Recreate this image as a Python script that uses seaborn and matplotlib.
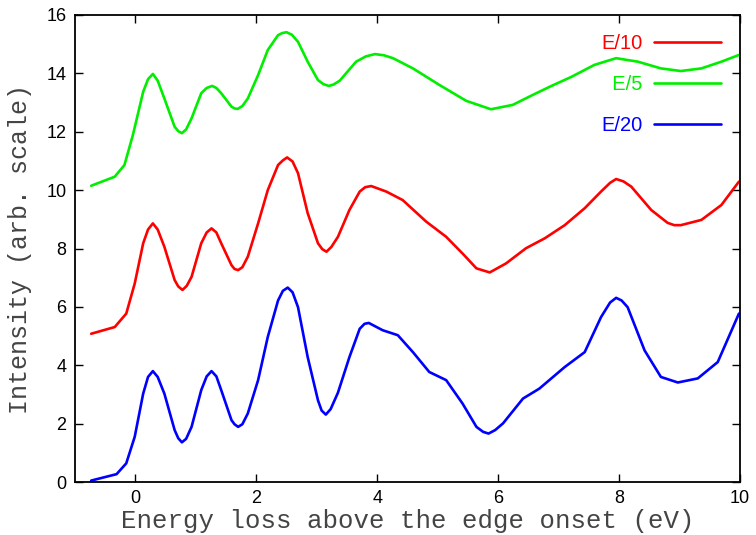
import pandas as pd
import matplotlib
matplotlib.use("Agg")
import matplotlib.pyplot as plt
import seaborn as sns

# Значения
x_e20 = [-0.73, -0.31, -0.15, -0.01, 0.13, 0.21, 0.29, 0.37, 0.48, 0.65, 0.71, 0.77, 0.84,
         0.93, 1.09, 1.18, 1.26, 1.34, 1.42, 1.59, 1.64, 1.70, 1.77, 1.86, 2.03, 2.19, 2.36,
         2.44, 2.52, 2.60, 2.69, 2.85, 3.02, 3.08, 3.15, 3.23, 3.35, 3.54, 3.71, 3.79, 3.86,
         4.09, 4.34, 4.59, 4.86, 5.14, 5.41, 5.64, 5.75, 5.84, 5.95, 6.08, 6.41, 6.68, 7.10,
         7.43, 7.70, 7.85, 7.95, 8.04, 8.14, 8.42, 8.69, 8.97, 9.30, 9.63, 9.98]
y_e20 = [0.05, 0.27, 0.64, 1.55, 3.03, 3.60, 3.80, 3.60, 3.03, 1.78, 1.50, 1.36, 1.48,
         1.89, 3.15, 3.62, 3.80, 3.62, 3.15, 2.12, 1.98, 1.89, 1.98, 2.35, 3.49, 4.97, 6.22,
         6.55, 6.66, 6.50, 5.99, 4.28, 2.80, 2.45, 2.31, 2.50, 3.06, 4.28, 5.25, 5.42, 5.45,
         5.20, 5.03, 4.45, 3.77, 3.49, 2.69, 1.89, 1.72, 1.66, 1.78, 2.01, 2.86, 3.20, 3.94,
         4.45, 5.65, 6.15, 6.31, 6.22, 5.99, 4.51, 3.60, 3.41, 3.55, 4.11, 5.77]

x_e10 = [-0.73, -0.34, -0.15, -0.01, 0.13, 0.21, 0.29, 0.37, 0.48, 0.65, 0.71, 0.78, 0.85,
         0.93, 1.09, 1.18, 1.26, 1.34, 1.42, 1.59, 1.64, 1.70, 1.77, 1.86, 2.03, 2.19, 2.36,
         2.44, 2.51, 2.60, 2.69, 2.85, 3.02, 3.09, 3.16, 3.24, 3.35, 3.54, 3.71, 3.80, 3.90,
         4.15, 4.42, 4.81, 5.14, 5.41, 5.64, 5.86, 6.13, 6.46, 6.77, 7.10, 7.43, 7.70, 7.85,
         7.95, 8.07, 8.20, 8.53, 8.80, 8.91, 9.02, 9.36, 9.69, 9.98]
y_e10 = [5.08, 5.31, 5.77, 6.80, 8.18, 8.65, 8.86, 8.65, 8.06, 6.92, 6.70, 6.58, 6.72,
         7.03, 8.18, 8.55, 8.69, 8.55, 8.18, 7.43, 7.30, 7.26, 7.36, 7.72, 8.86, 10.00, 10.86,
         11.02, 11.12, 10.98, 10.58, 9.21, 8.18, 7.98, 7.89, 8.05, 8.40, 9.32, 9.95, 10.10, 10.14,
         9.95, 9.66, 8.92, 8.40, 7.83, 7.32, 7.18, 7.49, 8.01, 8.35, 8.80, 9.38, 9.95, 10.25,
         10.38, 10.30, 10.12, 9.32, 8.88, 8.80, 8.80, 8.98, 9.49, 10.29]

x_e5 = [-0.73, -0.34, -0.18, -0.04, 0.13, 0.21, 0.29, 0.37, 0.48, 0.65, 0.71, 0.77, 0.84,
        0.93, 1.09, 1.18, 1.27, 1.34, 1.42, 1.59, 1.64, 1.69, 1.77, 1.86, 2.03, 2.19, 2.36,
        2.43, 2.50, 2.59, 2.69, 2.85, 3.02, 3.11, 3.20, 3.28, 3.38, 3.65, 3.81, 3.96, 4.11,
        4.26, 4.59, 5.03, 5.47, 5.88, 6.24, 6.57, 6.85, 7.21, 7.59, 7.95, 8.31, 8.69, 9.02,
        9.36, 9.69, 9.98]
y_e5 = [10.15, 10.46, 10.86, 11.89, 13.37, 13.80, 13.98, 13.75, 13.14, 12.17, 12.02, 11.95, 12.08,
        12.46, 13.32, 13.50, 13.57, 13.50, 13.32, 12.86, 12.80, 12.78, 12.88, 13.14, 13.94, 14.80, 15.31,
        15.38, 15.41, 15.32, 15.08, 14.40, 13.77, 13.63, 13.57, 13.62, 13.75, 14.40, 14.58, 14.66, 14.62,
        14.52, 14.17, 13.60, 13.06, 12.77, 12.92, 13.26, 13.54, 13.88, 14.29, 14.52, 14.40, 14.17, 14.08,
        14.17, 14.40, 14.63]

labels = ["E/10", "  E/5", "E/20"]
colors = ["#ff0000", "#00ee00", "#0000ff"]

data = pd.concat([
    pd.DataFrame({"energy": x_e10, "intensity": y_e10, "series": labels[0]}),
    pd.DataFrame({"energy": x_e5, "intensity": y_e5, "series": labels[1]}),
    pd.DataFrame({"energy": x_e20, "intensity": y_e20, "series": labels[2]}),
])

sns.set_style("ticks")
plt.rcParams["font.family"] = ["Liberation Sans", "DejaVu Sans"]

fig = plt.figure(figsize=(7.56, 5.35), dpi=100)
ax = fig.add_axes([0.099, 0.099, 0.880, 0.873])

sns.lineplot(data=data, x="energy", y="intensity", hue="series", hue_order=labels,
             palette=colors, estimator=None, linewidth=1.9, solid_joinstyle="round", ax=ax)

ax.set_xlim(-1, 10)
ax.set_ylim(0, 16)
ax.set_xticks(range(0, 11, 2))
ax.set_yticks(range(0, 17, 2))
ax.tick_params(direction="in", length=6, width=1, top=True, right=True,
               labelsize=13, colors="black", pad=6)
for s in ax.spines.values():
    s.set_visible(True)
    s.set_linewidth(1.3)
    s.set_color("black")

ax.set_xlabel("Energy loss above the edge onset (eV)", family="Liberation Mono",
              fontsize=18.5, color="#444444", labelpad=1)
ax.set_ylabel("Intensity (arb. scale)", family="Liberation Mono",
              fontsize=18, color="#444444", labelpad=10)

leg = ax.legend(loc="upper right", bbox_to_anchor=(0.999, 0.998), frameon=False,
                markerfirst=False, labelcolor="linecolor", fontsize=14.5,
                handlelength=3.35, handletextpad=0.55, labelspacing=1.1)
for line in leg.get_lines():
    line.set_linewidth(1.9)

fig.savefig("out.png", dpi=100)
